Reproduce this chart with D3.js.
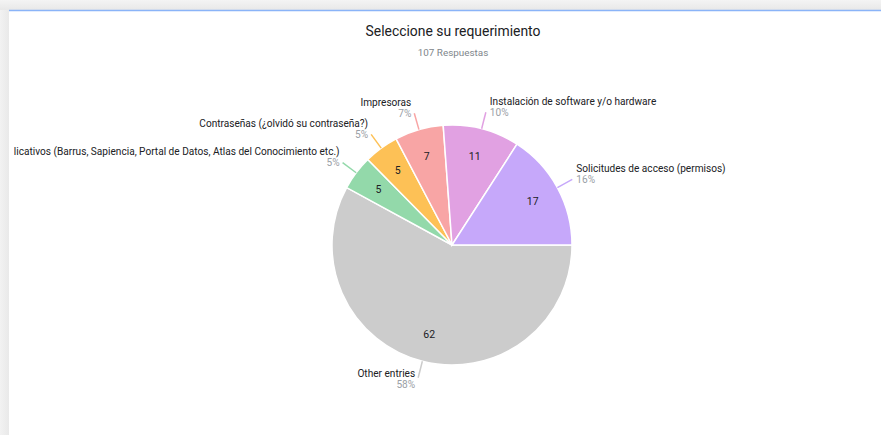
<!DOCTYPE html>
<html>
<head>
<meta charset="utf-8">
<script src="https://cdn.jsdelivr.net/npm/d3@7"></script>
<style>
  html, body { margin: 0; padding: 0; background: #fff; }
  svg { display: block; font-family: Roboto, "Noto Sans", sans-serif; }
</style>
</head>
<body>
<svg id="chart"></svg>
<script>
const title = "Seleccione su requerimiento";
const subtitle = "107 Respuestas";
const categories = [
  "Other entries",
  "Aplicativos (Barrus, Sapiencia, Portal de Datos, Atlas del Conocimiento etc.)",
  "Contraseñas (¿olvidó su contraseña?)",
  "Impresoras",
  "Instalación de software y/o hardware",
  "Solicitudes de acceso (permisos)"
];
const counts = [62, 5, 5, 7, 11, 17];
const sliceColors = ["#cccccc", "#93d9aa", "#fdc156", "#f8a5a5", "#e1a1e2", "#c6a8fa"];

const width = 881, height = 435;
const cx = 452, cy = 245, radius = 120;

const svg = d3.select("#chart")
  .attr("width", width)
  .attr("height", height);

// page chrome: grey strip on top and left, white card with blue top edge
const defs = svg.append("defs");
const topGrad = defs.append("linearGradient").attr("id", "topGrad")
  .attr("x1", 0).attr("y1", 0).attr("x2", 0).attr("y2", 1);
topGrad.append("stop").attr("offset", "0%").attr("stop-color", "#f4f4f4");
topGrad.append("stop").attr("offset", "100%").attr("stop-color", "#e8e8e8");
const leftGrad = defs.append("linearGradient").attr("id", "leftGrad")
  .attr("x1", 0).attr("y1", 0).attr("x2", 1).attr("y2", 0);
leftGrad.append("stop").attr("offset", "0%").attr("stop-color", "#f2f2f2");
leftGrad.append("stop").attr("offset", "100%").attr("stop-color", "#e9e9e9");

defs.append("clipPath").attr("id", "cardClip")
  .append("rect").attr("x", 14).attr("y", 11).attr("width", width).attr("height", height);

svg.append("rect").attr("width", width).attr("height", 10).attr("fill", "url(#topGrad)");
svg.append("rect").attr("y", 10).attr("width", 9).attr("height", height - 10).attr("fill", "url(#leftGrad)");
svg.append("rect").attr("x", 9).attr("y", 10).attr("width", width - 9).attr("height", height - 10).attr("fill", "#fff");
svg.append("line")
  .attr("x1", 9).attr("x2", width).attr("y1", 10.5).attr("y2", 10.5)
  .attr("stroke", "#8ab4f8").attr("stroke-width", 1.5);

// titles
svg.append("text")
  .attr("x", cx + 1).attr("y", 36)
  .attr("text-anchor", "middle")
  .style("font-size", "13.9px")
  .attr("fill", "#202124")
  .text(title);

svg.append("text")
  .attr("x", cx + 1).attr("y", 56)
  .attr("text-anchor", "middle")
  .style("font-size", "9.9px")
  .attr("fill", "#80868b")
  .text(subtitle);

const data = categories.map((c, i) => ({ name: c, value: counts[i] }));
const total = d3.sum(counts);

const color = d3.scaleOrdinal()
  .domain(categories)
  .range(sliceColors);

const pie = d3.pie()
  .sort(null)
  .value(d => d.value)
  .startAngle(Math.PI / 2)
  .endAngle(Math.PI / 2 + 2 * Math.PI);

const arcs = pie(data);

const arc = d3.arc().innerRadius(0).outerRadius(radius);
const innerLabelArc = d3.arc().innerRadius(92).outerRadius(92);
const edgeArc = d3.arc().innerRadius(radius).outerRadius(radius);
const outerArc = d3.arc().innerRadius(137).outerRadius(137);

const g = svg.append("g")
  .attr("clip-path", "url(#cardClip)")
  .append("g")
  .attr("transform", `translate(${cx},${cy})`);

g.selectAll("path.slice")
  .data(arcs)
  .join("path")
  .attr("class", "slice")
  .attr("d", arc)
  .attr("fill", d => color(d.data.name))
  .attr("stroke", "#fff")
  .attr("stroke-width", 1.5);

// values inside slices
g.selectAll("text.value")
  .data(arcs)
  .join("text")
  .attr("class", "value")
  .attr("transform", d => `translate(${innerLabelArc.centroid(d)})`)
  .attr("text-anchor", "middle")
  .attr("dy", "0.35em")
  .style("font-size", "10.5px")
  .attr("fill", "#202124")
  .text(d => d.data.value);

// leader lines
g.selectAll("line.leader")
  .data(arcs)
  .join("line")
  .attr("class", "leader")
  .attr("x1", d => edgeArc.centroid(d)[0])
  .attr("y1", d => edgeArc.centroid(d)[1])
  .attr("x2", d => outerArc.centroid(d)[0])
  .attr("y2", d => outerArc.centroid(d)[1])
  .attr("stroke", d => color(d.data.name))
  .attr("stroke-width", 1.5);

// outside labels: name + percentage
const labels = g.selectAll("g.label")
  .data(arcs)
  .join("g")
  .attr("class", "label")
  .attr("transform", d => {
    const [x, y] = outerArc.centroid(d);
    const mid = (d.startAngle + d.endAngle) / 2;
    const right = Math.sin(mid) > 0;
    const bottom = Math.cos(mid) < 0;
    return `translate(${x + (right ? 4 : -3)},${y + (bottom ? 7 : 0)})`;
  })
  .attr("text-anchor", d => Math.sin((d.startAngle + d.endAngle) / 2) > 0 ? "start" : "end");

labels.append("text")
  .attr("y", -11)
  .attr("dy", "0.35em")
  .style("font-size", "10.1px")
  .attr("fill", "#202124")
  .text(d => d.data.name);

labels.append("text")
  .attr("y", 0)
  .attr("dy", "0.35em")
  .style("font-size", "10.1px")
  .attr("fill", "#9aa0a6")
  .text(d => Math.round(d.data.value / total * 100) + "%");
</script>
</body>
</html>
